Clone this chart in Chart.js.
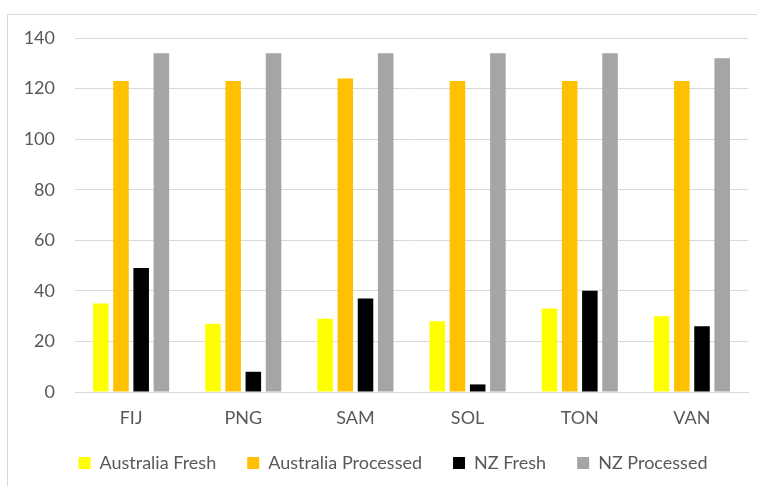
<!DOCTYPE html>
<html>
<head>
<meta charset="utf-8">
<script src="https://cdn.jsdelivr.net/npm/chart.js@4"></script>
<style>
  html, body { margin: 0; padding: 0; background: #fff; }
  body { width: 757px; height: 486px; position: relative; overflow: hidden; }
  #frame { position: absolute; left: 7px; top: 14px; width: 760px; height: 490px; border: 1px solid #d9d9d9; box-sizing: border-box; }
  #wrap { position: absolute; left: 0; top: 0; width: 757px; height: 486px; }
</style>
</head>
<body>
<div id="frame"></div>
<div id="wrap"><canvas id="chart"></canvas></div>
<script>
// 各國數據
const categories = ['FIJ', 'PNG', 'SAM', 'SOL', 'TON', 'VAN'];
const ausFresh = [35, 27, 29, 28, 33, 30];
const ausProcessed = [123, 123, 124, 123, 123, 123];
const nzFresh = [49, 8, 37, 3, 40, 26];
const nzProcessed = [134, 134, 134, 134, 134, 132];
const yTicks = [0, 20, 40, 60, 80, 100, 120, 140];

const textColor = '#595959';
const gridColor = '#d9d9d9';
const fontFamily = 'Lato, "Open Sans", sans-serif';

// 圖例高度固定，位置稍微右移
const legendPlace = {
  id: 'legendPlace',
  beforeInit(chart) {
    const lg = chart.legend;
    const fit = lg.fit;
    lg.fit = function () { fit.call(this); this.height = 57; };
  },
  afterLayout(chart) {
    const lg = chart.legend;
    lg.left += 19; lg.right += 19;
    lg.top -= 6; lg.bottom -= 6;
  }
};

const ctx = document.getElementById('chart').getContext('2d');
new Chart(ctx, {
  type: 'bar',
  data: {
    labels: categories,
    datasets: [
      { label: 'Australia Fresh', data: ausFresh, backgroundColor: '#FFFF00' },
      { label: 'Australia Processed', data: ausProcessed, backgroundColor: '#FFC000' },
      { label: 'NZ Fresh', data: nzFresh, backgroundColor: '#000000' },
      { label: 'NZ Processed', data: nzProcessed, backgroundColor: '#A5A5A5' }
    ]
  },
  plugins: [legendPlace],
  options: {
    responsive: true,
    maintainAspectRatio: false,
    animation: false,
    datasets: {
      bar: { categoryPercentage: 0.72, barPercentage: 0.77 }
    },
    layout: { padding: { left: 0, right: 9, top: 38, bottom: 0 } },
    plugins: {
      tooltip: { enabled: false },
      legend: {
        position: 'bottom',
        labels: {
          color: textColor,
          font: { family: fontFamily, size: 18 },
          boxWidth: 12,
          boxHeight: 12,
          padding: 31
        }
      }
    },
    scales: {
      x: {
        afterFit: axis => { axis.height = 37; },
        grid: { display: false, drawTicks: false },
        border: { color: gridColor },
        ticks: { color: textColor, font: { family: fontFamily, size: 18 }, padding: 15 }
      },
      y: {
        min: 0,
        max: 140,
        afterBuildTicks: axis => { axis.ticks = yTicks.map(v => ({ value: v })); },
        afterFit: axis => { axis.width = 75; },
        grid: { color: gridColor, drawTicks: false },
        border: { display: false },
        ticks: { color: textColor, font: { family: fontFamily, size: 18 }, padding: 20 }
      }
    }
  }
});
</script>
</body>
</html>
